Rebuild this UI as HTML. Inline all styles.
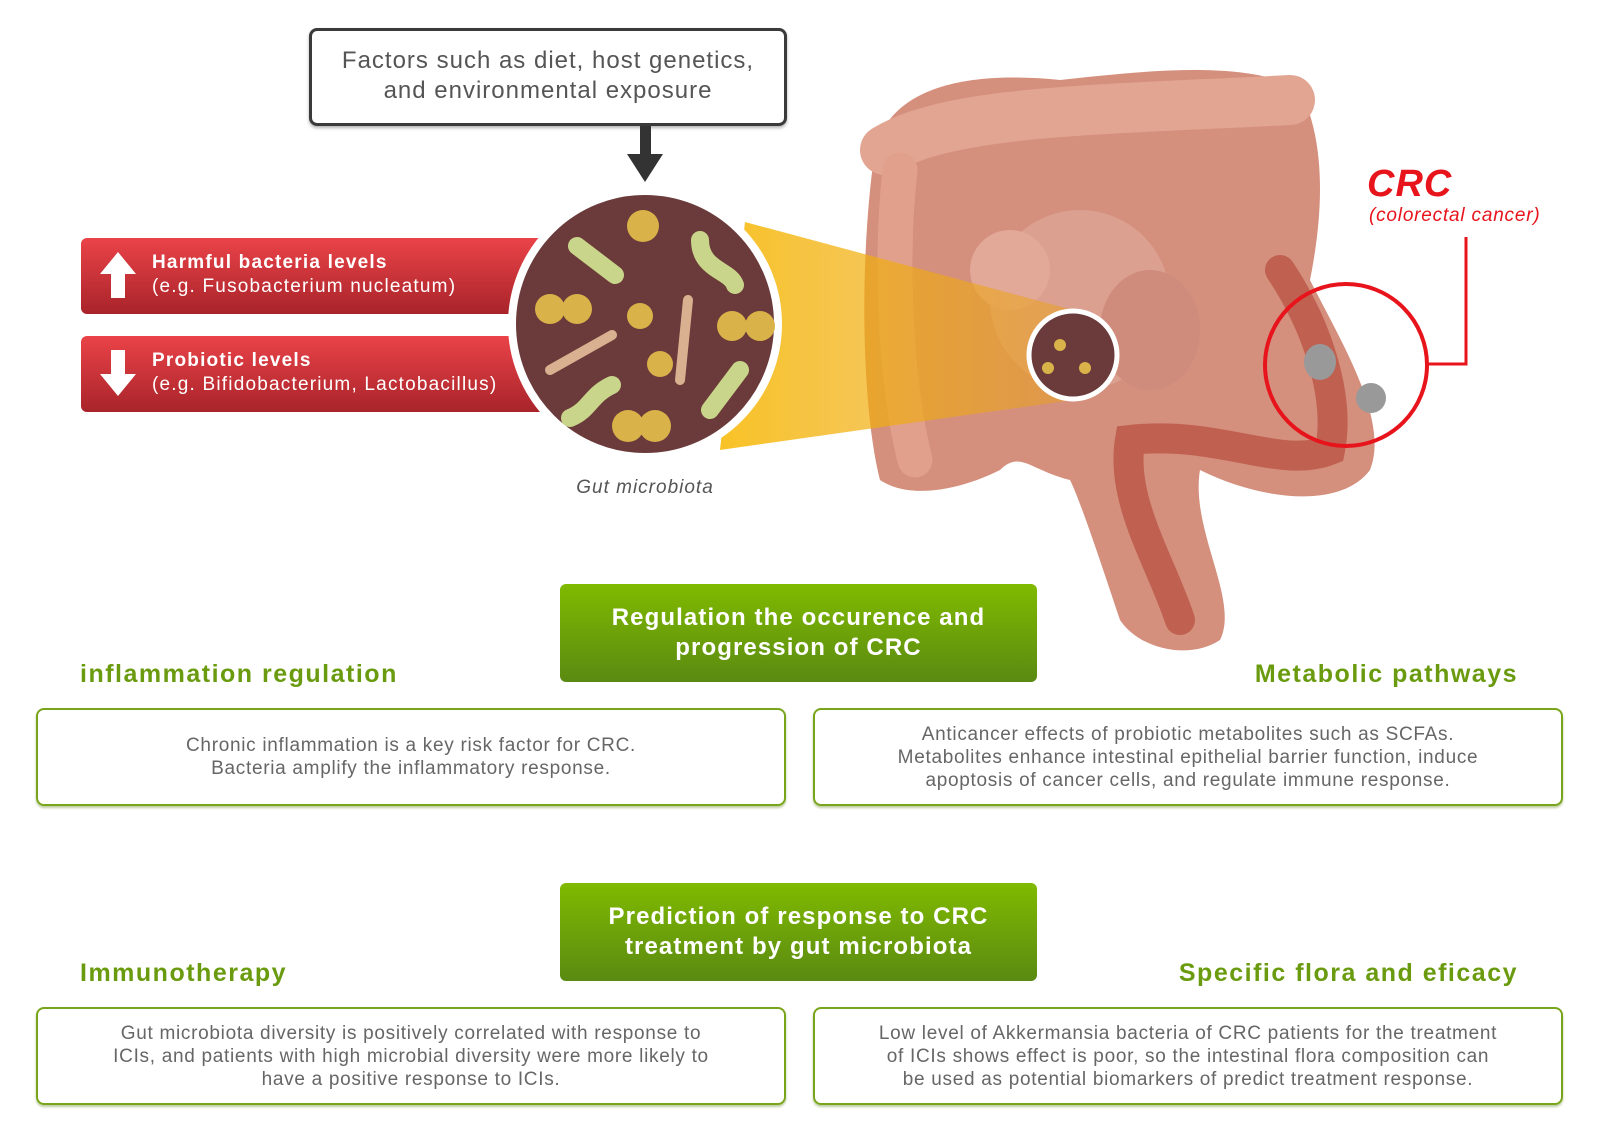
<!DOCTYPE html>
<html><head><meta charset="utf-8"><style>
body{margin:0;width:1600px;height:1132px;background:#fff;position:relative;overflow:hidden;font-family:"Liberation Sans",sans-serif}
.abs{position:absolute}
.fact{left:309px;top:28px;width:478px;height:98px;border:3px solid #3a3a3a;border-radius:8px;box-sizing:border-box;text-align:center;font-size:24px;color:#555;line-height:30px;padding-top:15px;box-shadow:0 2px 3px rgba(0,0,0,.3);letter-spacing:1px}
.red{left:81px;width:470px;height:76px;border-radius:6px;background:linear-gradient(#ea4348,#a8242a);color:#fff}
.red .t{position:absolute;left:71px;font-size:19px;line-height:24px;letter-spacing:1.2px}
.green{left:560px;width:477px;height:98px;border-radius:6px;background:linear-gradient(#80ba00,#5a8a12);color:#fff;font-weight:bold;font-size:24px;line-height:30px;text-align:center;box-sizing:border-box;padding-top:19px;letter-spacing:1.1px}
.head{color:#6a9b0f;font-weight:bold;font-size:25px;letter-spacing:1.5px}
.box{width:750px;height:98px;border:2px solid #79a51c;border-radius:8px;box-sizing:border-box;color:#666;font-size:19px;line-height:23px;text-align:center;display:flex;align-items:center;justify-content:center;box-shadow:0 2px 2px rgba(90,130,20,.4);letter-spacing:.7px}
</style></head><body>
<div class="abs fact">Factors such as diet, host genetics,<br>and environmental exposure</div>
<div class="abs" style="left:640px;top:126px;width:11px;height:30px;background:#333"></div>
<div class="abs" style="left:627px;top:154px;width:0;height:0;border-left:18px solid transparent;border-right:18px solid transparent;border-top:28px solid #333"></div>

<div class="abs red" style="top:238px"><svg class="abs" style="left:19px;top:14px" width="36" height="48"><polygon points="18,0 36,22 25,22 25,46 11,46 11,22 0,22" fill="#fff"/></svg><div class="t" style="top:13px"><b>Harmful bacteria levels</b><br>(e.g. Fusobacterium nucleatum)</div></div>
<div class="abs red" style="top:336px"><svg class="abs" style="left:19px;top:14px" width="36" height="48"><polygon points="11,0 25,0 25,24 36,24 18,46 0,24 11,24" fill="#fff"/></svg><div class="t" style="top:13px"><b>Probiotic levels</b><br>(e.g. Bifidobacterium, Lactobacillus)</div></div>

<svg class="abs" style="left:0;top:0" width="1600" height="1132">
<defs><linearGradient id="cone" x1="0" x2="1"><stop offset="0" stop-color="#f7b800"/><stop offset="1" stop-color="#e8a020" stop-opacity=".6"/></linearGradient></defs>
<!-- intestine -->
<path d="M880 480 C860 400 860 250 875 150 C890 90 960 70 1060 80 C1150 70 1250 60 1300 90 C1330 150 1320 230 1310 280 C1340 340 1390 420 1370 470 C1340 510 1260 500 1200 470 C1190 530 1240 600 1220 640 C1190 660 1140 650 1120 620 C1100 560 1080 500 1070 480 C1030 470 1020 450 1000 470 C960 490 910 500 880 480 Z" fill="#d48f7d"/>
<path d="M885 150 C950 110 1100 110 1290 100" stroke="#e2a592" stroke-width="50" fill="none" stroke-linecap="round"/>
<path d="M900 170 C890 260 895 380 915 460" stroke="#e0a08c" stroke-width="35" fill="none" stroke-linecap="round"/>
<ellipse cx="1080" cy="300" rx="90" ry="90" fill="#dca090"/>
<ellipse cx="1150" cy="330" rx="50" ry="60" fill="#cf8c7c"/>
<ellipse cx="1010" cy="270" rx="40" ry="40" fill="#e2a898"/>
<path d="M1280 270 C1320 330 1340 400 1330 450 C1280 470 1220 430 1130 440 C1120 500 1160 560 1180 620" stroke="#c06050" stroke-width="30" fill="none" stroke-linecap="round"/>
<ellipse cx="1320" cy="362" rx="16" ry="18" fill="#999"/><ellipse cx="1371" cy="398" rx="15" ry="15" fill="#999"/>
<polygon points="745,222 1073,310 1073,400 720,450" fill="url(#cone)" opacity=".85"/>
<circle cx="1073" cy="355" r="44" fill="#6b3a3a" stroke="#fff" stroke-width="5"/>
<circle cx="645" cy="324" r="133" fill="#6b3a3a" stroke="#fff" stroke-width="8"/>
<g fill="#d9b24a"><circle cx="643" cy="226" r="16"/><circle cx="550" cy="309" r="15"/><circle cx="577" cy="309" r="15"/><circle cx="640" cy="316" r="13"/><circle cx="732" cy="326" r="15"/><circle cx="760" cy="326" r="15"/><circle cx="660" cy="364" r="13"/><circle cx="628" cy="426" r="16"/><circle cx="655" cy="426" r="16"/></g>
<g stroke="#c9d58a" stroke-width="18" stroke-linecap="round" fill="none"><path d="M577 246 L615 275"/><path d="M700 240 C700 270 730 270 735 285"/><path d="M570 418 C590 410 590 395 612 385"/><path d="M740 370 L710 410"/></g>
<g stroke="#d9b090" stroke-width="10" stroke-linecap="round" fill="none"><path d="M550 370 L612 335"/><path d="M688 300 L680 380"/></g>
<g fill="#d9b24a"><circle cx="1060" cy="345" r="6"/><circle cx="1085" cy="368" r="6"/><circle cx="1048" cy="368" r="6"/></g>
<circle cx="1346" cy="365" r="81" fill="none" stroke="#e8141c" stroke-width="4"/>
<polyline points="1427,364 1466,364 1466,237" fill="none" stroke="#e8141c" stroke-width="3"/>
<text x="1367" y="196" font-family="Liberation Sans" font-weight="bold" font-style="italic" font-size="38" fill="#e8141c" letter-spacing="1">CRC</text>
<text x="1369" y="221" font-family="Liberation Sans" font-style="italic" font-size="19" fill="#e8141c" letter-spacing="0.8">(colorectal cancer)</text>
<text x="645" y="493" text-anchor="middle" font-family="Liberation Sans" font-style="italic" font-size="19" fill="#555" letter-spacing="1">Gut microbiota</text>
</svg>

<div class="abs green" style="top:584px">Regulation the occurence and<br>progression of CRC</div>
<div class="abs head" style="left:80px;top:660px">inflammation regulation</div>
<div class="abs head" style="right:82px;top:660px">Metabolic pathways</div>
<div class="abs box" style="left:36px;top:708px">Chronic inflammation is a key risk factor for CRC.<br>Bacteria amplify the inflammatory response.</div>
<div class="abs box" style="left:813px;top:708px">Anticancer effects of probiotic metabolites such as SCFAs.<br>Metabolites enhance intestinal epithelial barrier function, induce<br>apoptosis of cancer cells, and regulate immune response.</div>

<div class="abs green" style="top:883px">Prediction of response to CRC<br>treatment by gut microbiota</div>
<div class="abs head" style="left:80px;top:959px">Immunotherapy</div>
<div class="abs head" style="right:82px;top:959px">Specific flora and eficacy</div>
<div class="abs box" style="left:36px;top:1007px">Gut microbiota diversity is positively correlated with response to<br>ICIs, and patients with high microbial diversity were more likely to<br>have a positive response to ICIs.</div>
<div class="abs box" style="left:813px;top:1007px">Low level of Akkermansia bacteria of CRC patients for the treatment<br>of ICIs shows effect is poor, so the intestinal flora composition can<br>be used as potential biomarkers of predict treatment response.</div>
</body></html>
